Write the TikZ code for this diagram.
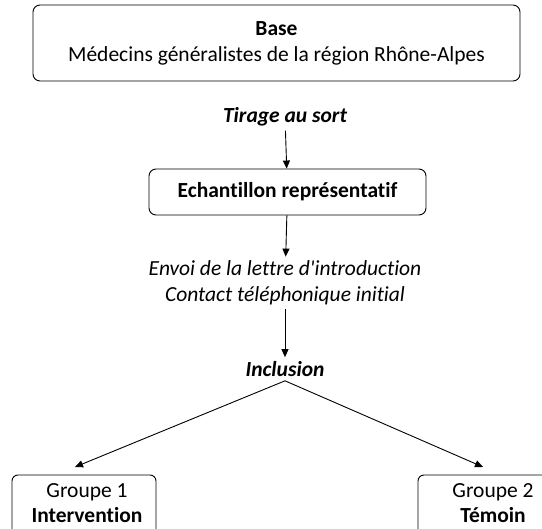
\documentclass[tikz,border=0pt]{standalone}
\usepackage{fontspec}
\setmainfont[Ligatures=NoCommon]{Carlito}
\usetikzlibrary{arrows.meta}
\newcommand{\bigtext}{\fontsize{21.5}{26}\selectfont}
\tikzset{
  box/.style={draw, rounded corners=7pt, line width=0.9pt, align=center, inner sep=0pt, font=\bigtext},
  steptext/.style={align=center, inner sep=4pt, font=\bigtext\itshape},
  grouptext/.style={align=center, inner sep=0pt, font=\fontsize{21.5}{25}\selectfont},
  flow/.style={-{Triangle[length=8pt,width=7pt]}, line width=0.9pt}
}

\begin{document}
\begin{tikzpicture}[x=1pt,y=-1pt]
			%%%%% START %%%%%
			\clip (0,0) rectangle (542,529);

			\node[box, minimum width=487pt, minimum height=76pt] (base) at (276.5,43) {\textbf{Base}\\Médecins généralistes de la région Rhône-Alpes};

			\node[steptext, font=\bigtext\bfseries\itshape] (tirage) at (285,117) {Tirage au sort};
			\node[box, font=\bigtext\bfseries, minimum width=277pt, minimum height=46pt] (echant) at (287.5,192) {Echantillon représentatif};
			\node[steptext] (envoi) at (285,283) {Envoi de la lettre d\textquotesingle introduction\\Contact téléphonique initial};
			\node[steptext, font=\bigtext\bfseries\itshape] (inclusion) at (285,369) {Inclusion};

			% group boxes run on past the lower edge
			\draw[line width=0.9pt, rounded corners=6pt] (12,545) -- (12,475) -- (156,475) -- (156,545);
			\draw[line width=0.9pt, rounded corners=6pt] (418,545) -- (418,475) -- (570,475) -- (570,545);
			\node[grouptext] (g1) at (87,503) {Groupe 1\\\textbf{Intervention}};
			\node[grouptext] (g2) at (493,503) {Groupe 2\\\textbf{Témoin}};

			\coordinate (g1in) at (75,467);
			\coordinate (g2in) at (483,467);

			\draw[flow] (tirage) -- (echant);
			\draw[flow] (echant) -- (envoi);
			\draw[flow] (envoi) -- (inclusion);
			\draw[flow] (inclusion.south) -- (g1in);
			\draw[flow] (inclusion.south) -- (g2in);
			%%%%% END %%%%%
\end{tikzpicture}
\end{document}
